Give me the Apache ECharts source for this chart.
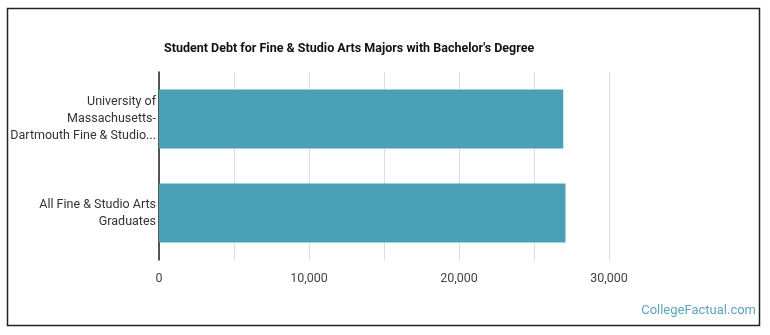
<!DOCTYPE html>
<html>
<head>
<meta charset="utf-8">
<script src="https://cdn.jsdelivr.net/npm/echarts@6/dist/echarts.min.js"></script>
<style>
  html, body { margin: 0; padding: 0; background: #fff; }
  #chart { width: 770px; height: 335px; }
</style>
</head>
<body>
<div id="chart"></div>
<script>
const categories = [
  "University of\nMassachusetts-\nDartmouth Fine & Studio...",
  "All Fine & Studio Arts\nGraduates"
]
const debtValues = [26950, 27100]
const xTicks = [0, 10000, 20000, 30000]

const chart = echarts.init(document.getElementById("chart"))

chart.setOption({
  backgroundColor: "#fff",
  animation: false,
  textStyle: { fontFamily: "Roboto" },
  title: {
    text: "Student Debt for Fine & Studio Arts Majors with Bachelor's Degree",
    left: 159,
    top: 37,
    textStyle: { fontSize: 12.5, fontWeight: "bold", color: "#111", fontFamily: "Roboto" },
  },
  graphic: [
    {
      type: "rect",
      shape: { x: 7.5, y: 8.5, width: 752, height: 317 },
      style: { fill: "none", stroke: "#222", lineWidth: 1.5 },
      silent: true,
    },
    {
      type: "text",
      right: 14,
      top: 304,
      style: { text: "CollegeFactual.com", fill: "#5aa6bb", fontSize: 13, fontFamily: "Roboto" },
    },
  ],
  grid: { left: 159, right: 161, top: 72, height: 188, containLabel: false },
  xAxis: {
    type: "value",
    min: 0,
    max: 30000,
    interval: 5000,
    axisLine: { show: false },
    axisTick: { show: false },
    splitLine: { lineStyle: { color: "#ddd", width: 1 } },
    axisLabel: {
      color: "#444",
      fontSize: 12.5,
      margin: 12,
      formatter: (v) => (xTicks.includes(v) ? v.toLocaleString("en-US") : ""),
    },
  },
  yAxis: {
    type: "category",
    inverse: true,
    data: categories,
    axisLine: { show: true, lineStyle: { color: "#222", width: 1.5 } },
    axisTick: { show: false },
    axisLabel: { color: "#333", fontSize: 12.5, lineHeight: 17, margin: 3, align: "right" },
  },
  series: [
    {
      type: "bar",
      data: debtValues,
      barWidth: 59,
      itemStyle: { color: "#4aa0b5" },
    },
  ],
})
</script>
</body>
</html>
